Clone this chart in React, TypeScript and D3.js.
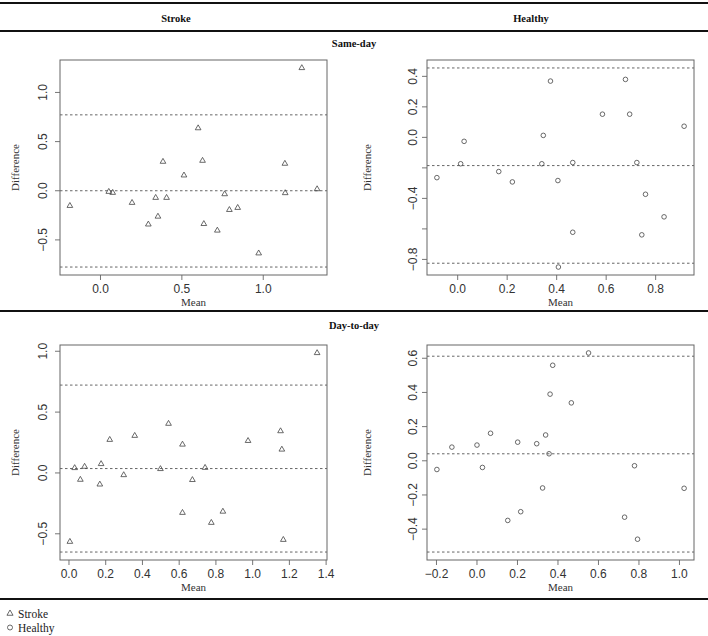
import React from "react";
import * as d3 from "d3";

// ---- Data ----
const strokeSameMean = [-0.188, 0.051, 0.075, 0.194, 0.294, 0.339, 0.353, 0.384, 0.406, 0.513, 0.600, 0.627, 0.635, 0.718, 0.763, 0.792, 0.843, 0.972, 1.133, 1.135, 1.237, 1.331];
const strokeSameDiff = [-0.153, -0.01, -0.02, -0.122, -0.342, -0.071, -0.262, 0.296, -0.071, 0.157, 0.637, 0.306, -0.337, -0.404, -0.034, -0.194, -0.173, -0.636, 0.276, -0.023, 1.249, 0.017];
const strokeSameLoA = [0.772, 0.0, -0.776];

const healthySameMean = [-0.084, 0.012, 0.026, 0.166, 0.221, 0.340, 0.346, 0.375, 0.405, 0.407, 0.465, 0.465, 0.585, 0.678, 0.695, 0.724, 0.744, 0.759, 0.834, 0.915];
const healthySameDiff = [-0.264, -0.173, -0.026, -0.224, -0.292, -0.173, 0.013, 0.369, -0.283, -0.850, -0.165, -0.622, 0.152, 0.380, 0.152, -0.165, -0.639, -0.373, -0.521, 0.073];
const healthySameLoA = [0.455, -0.185, -0.825];

const strokeDayMean = [0.005, 0.031, 0.062, 0.085, 0.168, 0.175, 0.222, 0.298, 0.358, 0.498, 0.542, 0.618, 0.618, 0.672, 0.741, 0.775, 0.838, 0.975, 1.152, 1.159, 1.167, 1.351];
const strokeDayDiff = [-0.565, 0.041, -0.055, 0.052, -0.094, 0.074, 0.273, -0.017, 0.306, 0.033, 0.405, 0.234, -0.327, -0.057, 0.043, -0.409, -0.317, 0.264, 0.344, 0.193, -0.549, 0.986];
const strokeDayLoA = [0.722, 0.036, -0.65];

const healthyDayMean = [-0.198, -0.124, 0.0, 0.027, 0.067, 0.152, 0.201, 0.216, 0.295, 0.324, 0.339, 0.356, 0.361, 0.374, 0.466, 0.551, 0.729, 0.778, 0.793, 1.023];
const healthyDayDiff = [-0.051, 0.08, 0.092, -0.039, 0.161, -0.349, 0.109, -0.298, 0.1, -0.159, 0.151, 0.041, 0.39, 0.559, 0.339, 0.631, -0.33, -0.029, -0.459, -0.161];
const healthyDayLoA = [0.612, 0.041, -0.534];

const p1XTicks = [0, 0.5, 1.0];
const p1YTicks = [-0.5, 0, 0.5, 1.0];
const p2XTicks = [0, 0.2, 0.4, 0.6, 0.8];
const p2YTicks = [-0.8, -0.6, -0.4, -0.2, 0, 0.2, 0.4];
const p2YLabels = [-0.8, -0.4, 0, 0.2, 0.4];
const p3XTicks = [0, 0.2, 0.4, 0.6, 0.8, 1.0, 1.2, 1.4];
const p3YTicks = [-0.5, 0, 0.5, 1.0];
const p4XTicks = [-0.2, 0, 0.2, 0.4, 0.6, 0.8, 1.0];
const p4YTicks = [-0.4, -0.2, 0, 0.2, 0.4, 0.6];

const colHeaders = ["Stroke", "Healthy"];
const rowHeaders = ["Same-day", "Day-to-day"];
const legendLabels = ["Stroke", "Healthy"];

const SANS = "'Liberation Sans', Arial, Helvetica, sans-serif";
const SERIF = "'Liberation Serif', 'Times New Roman', serif";
const INK = "#333";

const fmt = (v: number) => {
  const s = d3.format(".1f")(Math.abs(v) < 1e-9 ? 0 : v);
  return s.replace("-", "\u2212");
};

function pad(ext: number[]) {
  const [a, b] = ext;
  const p = (b - a) * 0.04;
  return [a - p, b + p];
}

type PanelProps = {
  left: number;
  top: number;
  width: number;
  height: number;
  xs: number[];
  ys: number[];
  loa: number[];
  xTicks: number[];
  yTicks: number[];
  yLabels?: number[];
  shape: "tri" | "circ";
  yLabelX: number;
  yTitleX: number;
};

function Panel(p: PanelProps) {
  const xDom = pad(d3.extent(p.xs) as number[]);
  const yDom = pad(d3.extent([...p.ys, ...p.loa]) as number[]);
  const x = d3.scaleLinear().domain(xDom).range([p.left, p.left + p.width]);
  const y = d3.scaleLinear().domain(yDom).range([p.top + p.height, p.top]);
  const bottom = p.top + p.height;
  const labels = p.yLabels ?? p.yTicks;
  const tri = d3.symbol().type(d3.symbolTriangle).size(14);
  return (
    <g>
      {p.loa.map((v, i) => (
        <line key={"l" + i} x1={p.left} x2={p.left + p.width} y1={y(v)} y2={y(v)}
          stroke="#555" strokeWidth={0.9} strokeDasharray="2.5,2.5" />
      ))}
      <rect x={p.left} y={p.top} width={p.width} height={p.height} fill="none" stroke="#666" strokeWidth={1} />
      {p.xTicks.map((t, i) => (
        <g key={"xt" + i}>
          <line x1={x(t)} x2={x(t)} y1={bottom} y2={bottom + 5} stroke="#666" strokeWidth={0.9} />
          <text x={x(t)} y={bottom + 18} textAnchor="middle" fontFamily={SANS} fontSize={12} fill={INK}>{fmt(t)}</text>
        </g>
      ))}
      {p.yTicks.map((t, i) => (
        <line key={"yt" + i} x1={p.left - 5} x2={p.left} y1={y(t)} y2={y(t)} stroke="#666" strokeWidth={0.9} />
      ))}
      {labels.map((t, i) => (
        <text key={"yl" + i} transform={`translate(${p.yLabelX + 4.3},${y(t)}) rotate(-90)`} textAnchor="middle"
          fontFamily={SANS} fontSize={12} fill={INK}>{fmt(t)}</text>
      ))}
      <text x={p.left + p.width / 2} y={bottom + 31} textAnchor="middle" fontFamily={SERIF} fontSize={11} fill={INK}>Mean</text>
      <text transform={`translate(${p.yTitleX + 3.5},${p.top + p.height / 2}) rotate(-90)`} textAnchor="middle"
        fontFamily={SERIF} fontSize={11} fill={INK}>Difference</text>
      {p.xs.map((v, i) =>
        p.shape === "tri" ? (
          <path key={"p" + i} d={tri() as string} transform={`translate(${x(v)},${y(p.ys[i])})`}
            fill="none" stroke="#444" strokeWidth={0.8} />
        ) : (
          <circle key={"p" + i} cx={x(v)} cy={y(p.ys[i])} r={2.3} fill="none" stroke="#444" strokeWidth={0.8} />
        )
      )}
    </g>
  );
}

export default function App() {
  const W = 708, H = 636;
  const tri = d3.symbol().type(d3.symbolTriangle).size(16);
  return (
    <svg width={W} height={H} style={{ position: "absolute", left: 0, top: 0, background: "#fff" }}>
      <rect width={W} height={H} fill="#fff" />
      {/* table rules */}
      <line x1={0} x2={W} y1={3} y2={3} stroke="#111" strokeWidth={2} />
      <line x1={0} x2={W} y1={31} y2={31} stroke="#111" strokeWidth={2} />
      <line x1={0} x2={W} y1={311} y2={311} stroke="#111" strokeWidth={2} />
      <line x1={0} x2={W} y1={599} y2={599} stroke="#111" strokeWidth={2} />
      <text x={176} y={21.5} textAnchor="middle" fontFamily={SERIF} fontWeight="bold" fontSize={10.5} fill="#111">{colHeaders[0]}</text>
      <text x={531} y={21.5} textAnchor="middle" fontFamily={SERIF} fontWeight="bold" fontSize={10.5} fill="#111">{colHeaders[1]}</text>
      <text x={354} y={46.5} textAnchor="middle" fontFamily={SERIF} fontWeight="bold" fontSize={10.5} fill="#111">{rowHeaders[0]}</text>
      <text x={354} y={328.5} textAnchor="middle" fontFamily={SERIF} fontWeight="bold" fontSize={10.5} fill="#111">{rowHeaders[1]}</text>

      <Panel left={60} top={60} width={267} height={215} xs={strokeSameMean} ys={strokeSameDiff} loa={strokeSameLoA}
        xTicks={p1XTicks} yTicks={p1YTicks} shape="tri" yLabelX={43} yTitleX={15} />
      <Panel left={427} top={60} width={267} height={215} xs={healthySameMean} ys={healthySameDiff} loa={healthySameLoA}
        xTicks={p2XTicks} yTicks={p2YTicks} yLabels={p2YLabels} shape="circ" yLabelX={413} yTitleX={367} />
      <Panel left={60} top={345} width={267} height={215} xs={strokeDayMean} ys={strokeDayDiff} loa={strokeDayLoA}
        xTicks={p3XTicks} yTicks={p3YTicks} shape="tri" yLabelX={43} yTitleX={15} />
      <Panel left={427} top={345} width={267} height={215} xs={healthyDayMean} ys={healthyDayDiff} loa={healthyDayLoA}
        xTicks={p4XTicks} yTicks={p4YTicks} shape="circ" yLabelX={413} yTitleX={367} />

      {/* legend */}
      <path d={tri() as string} transform="translate(10,613.5)" fill="none" stroke="#444" strokeWidth={0.8} />
      <text x={18} y={617.5} fontFamily={SERIF} fontSize={11.5} fill="#222">{legendLabels[0]}</text>
      <circle cx={10} cy={627.5} r={2.5} fill="none" stroke="#444" strokeWidth={0.8} />
      <text x={18} y={631.5} fontFamily={SERIF} fontSize={11.5} fill="#222">{legendLabels[1]}</text>
    </svg>
  );
}
